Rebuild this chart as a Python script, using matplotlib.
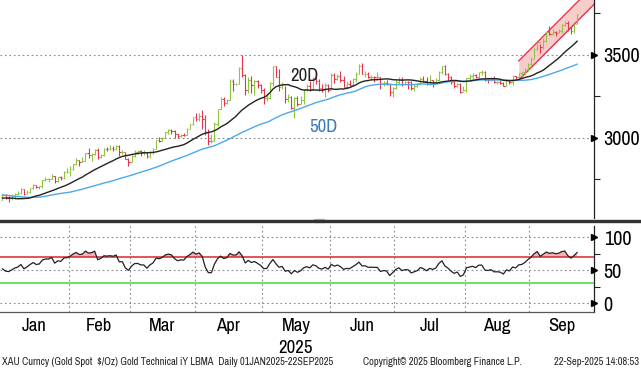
import numpy as np
import pandas as pd
import matplotlib
matplotlib.use("Agg")
import matplotlib.pyplot as plt
from matplotlib.lines import Line2D
from matplotlib.patches import Rectangle

plt.rcParams['font.family'] = ['Archivo Narrow', 'DejaVu Sans']
plt.rcParams['font.stretch'] = 'condensed'

# ---------------- data ----------------
start_date = '2025-01-02'
end_date = '2025-09-22'

# closes Oct 22 - Dec 31 2024 (history for moving averages / RSI)
prior_close = [2748, 2715, 2736, 2747, 2743, 2774, 2788, 2744, 2736, 2736,
               2743, 2659, 2706, 2685, 2619, 2598, 2573, 2565, 2563, 2611,
               2631, 2650, 2670, 2716, 2625, 2633, 2638, 2640, 2650, 2640,
               2643, 2650, 2632, 2633, 2660, 2694, 2718, 2680, 2648, 2652,
               2646, 2587, 2594, 2622, 2612, 2617, 2620, 2634, 2621, 2606, 2624]

close = [
    # Jan
    2658, 2640, 2636, 2648, 2662, 2670, 2690, 2662, 2677, 2697, 2715, 2703,
    2708, 2745, 2755, 2755, 2771, 2741, 2763, 2760, 2795, 2798,
    # Feb
    2815, 2843, 2866, 2856, 2861, 2908, 2898, 2905, 2929, 2883, 2899, 2935,
    2933, 2939, 2936, 2952, 2915, 2916, 2876, 2858,
    # Mar
    2893, 2918, 2920, 2910, 2910, 2889, 2916, 2934, 2988, 2984, 3001, 3035,
    3048, 3044, 3023, 3011, 3020, 3019, 3057, 3085, 3124,
    # Apr
    3113, 3133, 3114, 3037, 2982, 2982, 3083, 3175, 3237, 3211, 3230, 3343,
    3327, 3327, 3424, 3381, 3288, 3349, 3319, 3343, 3317, 3288,
    # May
    3239, 3241, 3334, 3431, 3366, 3306, 3325, 3234, 3248, 3179, 3240, 3203,
    3230, 3290, 3314, 3294, 3357, 3342, 3300, 3288, 3318, 3289,
    # Jun
    3381, 3353, 3375, 3352, 3310, 3326, 3322, 3355, 3386, 3433, 3385, 3388,
    3369, 3370, 3368, 3368, 3323, 3333, 3328, 3274, 3303,
    # Jul
    3338, 3357, 3326, 3337, 3336, 3302, 3313, 3324, 3355, 3344, 3325, 3347,
    3339, 3350, 3397, 3431, 3387, 3368, 3337, 3314, 3326, 3275, 3289,
    # Aug
    3363, 3373, 3381, 3369, 3397, 3398, 3352, 3348, 3356, 3335, 3336, 3332,
    3316, 3348, 3339, 3372, 3365, 3393, 3397, 3416, 3448,
    # Sep
    3477, 3533, 3578, 3545, 3587, 3636, 3626, 3641, 3634, 3643, 3679, 3690,
    3660, 3644, 3685, 3746]

high = [
    2665, 2665, 2650, 2665, 2670, 2678, 2697, 2694, 2684, 2700, 2724, 2719,
    2711, 2745, 2763, 2758, 2786, 2772, 2766, 2772, 2802, 2817,
    2830, 2845, 2882, 2870, 2886, 2911, 2942, 2909, 2935, 2942, 2905, 2937,
    2947, 2955, 2954, 2956, 2956, 2930, 2918, 2882,
    2896, 2928, 2930, 2925, 2930, 2915, 2921, 2940, 2990, 3005, 3003, 3038,
    3055, 3057, 3047, 3025, 3025, 3032, 3059, 3087, 3128,
    3149, 3149, 3167, 3136, 3055, 3023, 3099, 3176, 3245, 3245, 3234, 3357,
    3358, 3331, 3430, 3500, 3386, 3367, 3371, 3352, 3348, 3328,
    3299, 3269, 3336, 3435, 3433, 3414, 3340, 3314, 3265, 3250, 3245, 3253,
    3250, 3296, 3325, 3345, 3366, 3366, 3355, 3325, 3330, 3325,
    3392, 3393, 3385, 3403, 3375, 3345, 3350, 3360, 3398, 3446, 3452, 3403,
    3398, 3380, 3375, 3398, 3369, 3343, 3350, 3328, 3306,
    3358, 3365, 3366, 3345, 3345, 3345, 3317, 3330, 3369, 3375, 3366, 3377,
    3352, 3361, 3402, 3433, 3439, 3394, 3374, 3346, 3332, 3334, 3315,
    3363, 3385, 3390, 3388, 3399, 3409, 3405, 3356, 3368, 3375, 3345, 3358,
    3335, 3350, 3351, 3379, 3376, 3394, 3398, 3423, 3454,
    3490, 3540, 3578, 3564, 3600, 3640, 3674, 3659, 3646, 3656, 3685, 3703,
    3707, 3669, 3685, 3749]

low = [
    2624, 2634, 2614, 2625, 2635, 2656, 2660, 2656, 2660, 2668, 2692, 2697,
    2690, 2700, 2741, 2735, 2750, 2730, 2736, 2749, 2754, 2788,
    2772, 2810, 2838, 2834, 2853, 2862, 2880, 2864, 2899, 2876, 2881, 2894,
    2922, 2926, 2920, 2930, 2890, 2904, 2872, 2833,
    2858, 2885, 2906, 2894, 2898, 2880, 2880, 2906, 2932, 2976, 2980, 2998,
    3025, 3023, 2999, 3001, 3005, 3012, 3016, 3055, 3076,
    3100, 3104, 3054, 3016, 2957, 2970, 2982, 3073, 3174, 3194, 3204, 3228,
    3283, 3321, 3326, 3368, 3260, 3272, 3268, 3261, 3303, 3268,
    3202, 3223, 3237, 3315, 3365, 3281, 3292, 3208, 3218, 3172, 3121, 3193,
    3207, 3204, 3284, 3281, 3288, 3326, 3285, 3276, 3245, 3279,
    3295, 3334, 3348, 3340, 3308, 3294, 3315, 3315, 3340, 3385, 3383, 3366,
    3363, 3347, 3340, 3348, 3296, 3312, 3317, 3255, 3247,
    3297, 3328, 3312, 3323, 3296, 3287, 3283, 3310, 3322, 3340, 3320, 3319,
    3309, 3332, 3345, 3383, 3381, 3351, 3325, 3302, 3308, 3268, 3282,
    3279, 3347, 3353, 3359, 3364, 3380, 3343, 3332, 3342, 3331, 3323, 3323,
    3314, 3312, 3325, 3321, 3356, 3352, 3374, 3386, 3404,
    3436, 3475, 3528, 3510, 3533, 3578, 3620, 3619, 3613, 3630, 3634, 3673,
    3645, 3628, 3631, 3684]

# trend channel (dates, lower / upper prices)
channel_dates = ['2025-08-26', '2025-09-30']
channel_lower = [3349, 3814]
channel_upper = [3464, 3929]

rsi_upper = 70
rsi_lower = 30

price_ticks = [3000, 3500]
price_minor = [2750, 3250, 3750]
rsi_ticks = [0, 50, 100]
rsi_minor = [25, 75]

footer_left = "XAU Curncy (Gold Spot  $/Oz) Gold Technical iY LBMA  Daily 01JAN2025-22SEP2025"
footer_mid = "Copyright\u00a9 2025 Bloomberg Finance L.P."
footer_right = "22-Sep-2025 14:08:53"

# ---------------- derived ----------------
dates = pd.bdate_range(start_date, end_date)
n = len(dates)
x = np.arange(n)
close_a = np.array(close, float)
high_a = np.array(high, float)
low_a = np.array(low, float)
open_a = np.r_[prior_close[-1], close_a[:-1]]

all_close = pd.Series(prior_close + close, dtype=float)
k = len(prior_close)
ma20 = all_close.rolling(20, min_periods=1).mean().values[k:]
ma50 = all_close.rolling(50, min_periods=1).mean().values[k:]
delta = all_close.diff()
gain = delta.clip(lower=0)
loss = -delta.clip(upper=0)
ag = gain.ewm(alpha=1 / 14, adjust=False).mean()
al = loss.ewm(alpha=1 / 14, adjust=False).mean()
rsi = (100 - 100 / (1 + ag / al)).values[k:]

ext = pd.bdate_range(start_date, '2025-12-31')
ch_x = [ext.get_loc(pd.Timestamp(d)) for d in channel_dates]

XL = (-0.8, 192.5)
W, H = 641, 370
fig = plt.figure(figsize=(W / 100, H / 100), dpi=100)
axR = 594 / W
ax = fig.add_axes([0, 1 - 218 / H, axR, 218 / H])
ax2 = fig.add_axes([0, 1 - 312 / H, axR, (312 - 226) / H])

up_col = '#8cc63f'
dn_col = '#e8334f'
grid_kw = dict(color='#8a8a8a', lw=0.8, ls=(0, (1.5, 2.5)), zorder=1)

# ---- price panel ----
ax.set_xlim(*XL)
ax.set_ylim(2518, 3831)
for yv in price_ticks:
    ax.axhline(yv, **grid_kw)

cx = np.array(ch_x, float)
ax.fill_between(cx, channel_lower, channel_upper, color='#f9c4c4', alpha=0.85, lw=0, zorder=2)
ax.plot(cx, channel_lower, color='#e8334f', lw=1.0, zorder=3)
ax.plot(cx, channel_upper, color='#e8334f', lw=1.0, zorder=3)

cols = [up_col if c >= o else dn_col for c, o in zip(close_a, open_a)]
ax.vlines(x, low_a, high_a, colors=cols, lw=0.8, zorder=4)
ax.hlines(open_a, x - 0.45, x, colors=cols, lw=0.8, zorder=4)
ax.hlines(close_a, x, x + 0.45, colors=cols, lw=0.8, zorder=4)

ax.plot(x, ma50, color='#4ea8ea', lw=1.0, zorder=5)
ax.plot(x, ma20, color='#222222', lw=1.0, zorder=5)

ax.text(98.2, 3373, '20D', fontsize=13.5, color='#222222', ha='center', va='center', zorder=6)
ax.text(104.5, 3066, '50D', fontsize=13.5, color='#3d7ab8', ha='center', va='center', zorder=6)

for s in ['left', 'top', 'bottom']:
    ax.spines[s].set_visible(False)
ax.spines['right'].set_color('#222222')
ax.spines['right'].set_linewidth(0.9)
ax.yaxis.tick_right()
ax.set_yticks(price_ticks)
ax.set_yticks(price_minor, minor=True)
ax.set_yticklabels([str(t) for t in price_ticks], fontsize=14.5)
ax.tick_params(axis='y', which='major', length=0, pad=7)
ax.tick_params(axis='y', which='minor', length=4, width=0.8, color='#222222')
ax.set_xticks([])
tr = ax.get_yaxis_transform()
for yv in price_ticks:
    ax.plot([1.0], [yv], marker='>', ms=5, color='black', transform=tr, clip_on=False, zorder=7)

# ---- RSI panel ----
ax2.set_xlim(*XL)
ax2.set_ylim(-13.6, 116.7)
for yv in rsi_ticks:
    ax2.axhline(yv, **grid_kw)
bounds = [i - 0.5 for i in range(1, n) if dates[i].month != dates[i - 1].month]
for b in bounds:
    ax2.axvline(b, **grid_kw)
ax2.fill_between(x, rsi, rsi_upper, where=rsi > rsi_upper, interpolate=True,
                 color='#f7b3b3', lw=0, zorder=2)
ax2.axhline(rsi_upper, color='#d9262e', lw=1.1, zorder=3)
ax2.axhline(rsi_lower, color='#5fe05a', lw=1.3, zorder=3)
ax2.plot(x, rsi, color='#222222', lw=0.9, zorder=4)

for s in ['left', 'top']:
    ax2.spines[s].set_visible(False)
ax2.spines['right'].set_color('#222222')
ax2.spines['right'].set_linewidth(0.9)
ax2.spines['bottom'].set_color('#555555')
ax2.spines['bottom'].set_linewidth(0.9)
ax2.yaxis.tick_right()
ax2.set_yticks(rsi_ticks)
ax2.set_yticks(rsi_minor, minor=True)
ax2.set_yticklabels([str(t) for t in rsi_ticks], fontsize=14.5)
ax2.tick_params(axis='y', which='major', length=0, pad=7)
ax2.tick_params(axis='y', which='minor', length=4, width=0.8, color='#222222')
tr2 = ax2.get_yaxis_transform()
for yv in rsi_ticks:
    ax2.plot([1.0], [yv], marker='>', ms=5, color='black', transform=tr2, clip_on=False, zorder=7)

# month labels
edges = [XL[0]] + bounds + [XL[1]]
month_names = [dates[0].strftime('%b')] + [dates[int(b + 0.5)].strftime('%b') for b in bounds]
centers = [(edges[i] + edges[i + 1]) / 2 for i in range(len(edges) - 1)]
ax2.set_xticks(centers)
ax2.set_xticklabels(month_names, fontsize=13.5)
ax2.tick_params(axis='x', length=0, pad=4)
may_c = centers[month_names.index('May')]
ax2.text(may_c, -0.33, '2025', transform=ax2.get_xaxis_transform(), ha='center', va='top', fontsize=13.5)

# separator
fig.add_artist(Line2D([0, 1], [1 - 220.5 / H] * 2, color='#333333', lw=2.4, transform=fig.transFigure))
fig.add_artist(Rectangle((314 / W, 1 - 222 / H), 10 / W, 3 / H, color='#bbbbbb', transform=fig.transFigure))

# footer
fig.text(2 / W, 1 - 362 / H, footer_left, fontsize=7.5, va='center', ha='left', color='#222222')
fig.text(363 / W, 1 - 362 / H, footer_mid, fontsize=7.5, va='center', ha='left', color='#222222')
fig.text(639 / W, 1 - 362 / H, footer_right, fontsize=7.5, va='center', ha='right', color='#222222')

fig.savefig('out.png', dpi=100, facecolor='white')
